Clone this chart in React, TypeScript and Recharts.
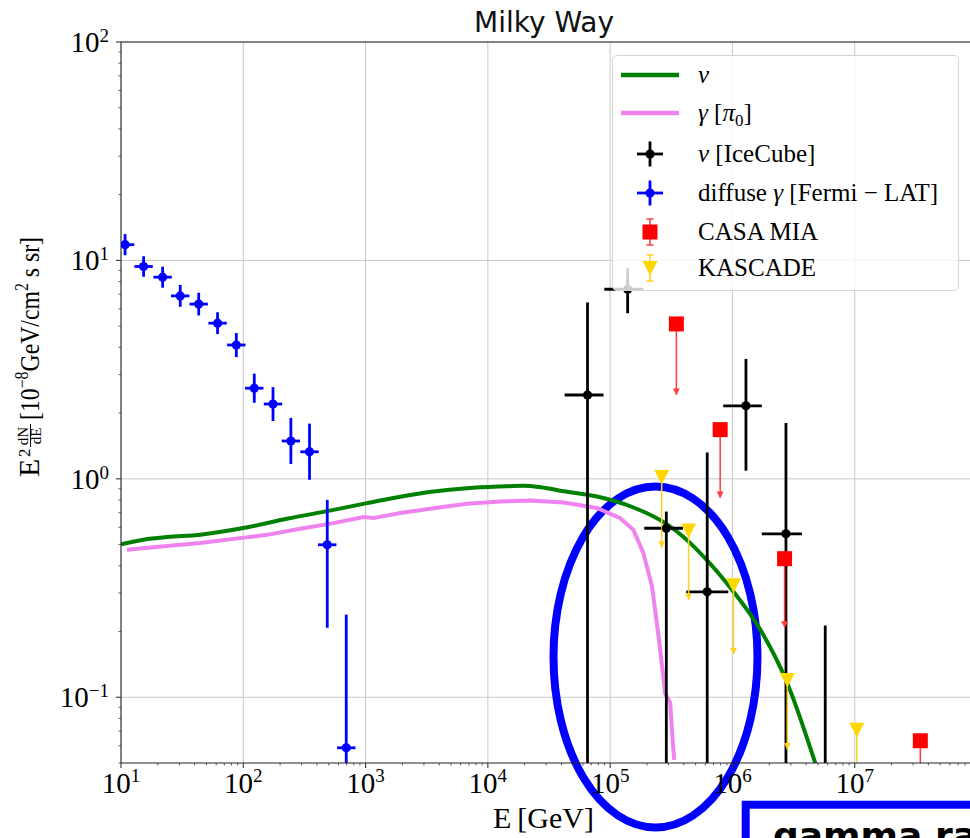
import React from 'react';
import {
  ComposedChart, Line, Scatter, XAxis, YAxis, CartesianGrid, ErrorBar,
  Legend, ReferenceLine, Customized,
} from 'recharts';

const serif = '"Liberation Serif", "DejaVu Serif", serif';

const X_MIN = 10;
const X_MAX = 1e8;
const Y_MIN = 0.05;
const Y_MAX = 100;

// nu model curve
const nuE = [10, 15.3, 23.8, 44.5, 100, 227, 547, 1026, 1693, 3597, 6745, 12600, 19600, 27000, 41600, 78000, 150000, 290000, 396000, 546000, 1.02e6, 1.69e6, 2.81e6, 4.75e6, 5.75e6];
const nuFlux = [0.502, 0.526, 0.541, 0.555, 0.595, 0.656, 0.721, 0.774, 0.817, 0.875, 0.906, 0.922, 0.929, 0.915, 0.878, 0.83, 0.745, 0.62, 0.543, 0.457, 0.304, 0.204, 0.116, 0.0501, 0.0358];

// gamma [pi0] curve
const gamE = [11.2, 23.8, 44.5, 83.4, 156, 292, 547, 963, 1162, 1922, 3597, 6745, 12600, 22200, 41600, 78000, 121000, 155000, 187000, 220000, 249000, 282000, 310000, 320000, 334000];
const gamFlux = [0.473, 0.493, 0.508, 0.531, 0.554, 0.591, 0.627, 0.668, 0.661, 0.697, 0.734, 0.769, 0.787, 0.796, 0.779, 0.735, 0.66, 0.584, 0.457, 0.322, 0.19, 0.104, 0.094, 0.071, 0.0517];

// diffuse gamma, Fermi-LAT
const fermiE = [10.8, 15.3, 21.9, 30.5, 43.2, 61.6, 87.7, 123, 175, 245, 348, 486, 695];
const fermiElo = [9.08, 12.87, 18.42, 25.65, 36.33, 51.81, 73.76, 103.4, 147.2, 206.1, 292.7, 408.7, 584.5];
const fermiEhi = [12.84, 18.19, 26.04, 36.26, 51.36, 73.24, 104.3, 146.2, 208.1, 291.3, 413.8, 577.9, 826.4];
const fermiFlux = [11.8, 9.38, 8.38, 6.88, 6.31, 5.16, 4.1, 2.6, 2.2, 1.49, 1.33, 0.499, 0.0587];
const fermiLo = [10.56, 8.42, 7.5, 6.13, 5.6, 4.6, 3.61, 2.23, 1.84, 1.17, 0.99, 0.208, 0.01];
const fermiHi = [13.2, 10.45, 9.36, 7.72, 7.11, 5.79, 4.65, 3.03, 2.63, 1.9, 1.79, 0.801, 0.239];

// nu, IceCube
const icE = [6.53e4, 1.39e5, 2.88e5, 6.22e5, 1.29e6, 2.74e6, 5.74e6];
const icElo = [4.24e4, 8.96e4, 1.9e5, 4.19e5, 8.41e5, 1.74e6, 3.7e6];
const icEhi = [8.83e4, 1.87e5, 3.94e5, 9.25e5, 1.74e6, 3.7e6, 8.9e6];
const icFlux = [2.42, 7.38, 0.594, 0.304, 2.16, 0.56, 0.02];
const icLo = [0.01, 5.73, 0.01, 0.01, 1.09, 0.01, 0.005];
const icHi = [6.41, 9.2, 0.708, 1.32, 3.54, 1.8, 0.213];

// CASA MIA upper limits
const casaE = [3.48e5, 7.94e5, 2.67e6, 3.44e7];
const casaFlux = [5.12, 1.68, 0.431, 0.0632];
const casaTip = [2.42, 0.818, 0.208, 0.0316];

// KASCADE upper limits
const kasE = [2.64e5, 4.38e5, 1.02e6, 2.81e6, 1.04e7];
const kasFlux = [1.02, 0.58, 0.326, 0.12, 0.071];
const kasTip = [0.483, 0.279, 0.157, 0.0576, 0.035];

const xMajor = [1e1, 1e2, 1e3, 1e4, 1e5, 1e6, 1e7, 1e8];
const yMajor = [0.1, 1, 10, 100];
const minorSteps = [2, 3, 4, 5, 6, 7, 8, 9];

const withMinor = (majors: number[], lo: number, hi: number) => {
  const out: number[] = [];
  [majors[0] / 10, ...majors].forEach((m) => {
    out.push(m);
    minorSteps.forEach((s) => out.push(m * s));
  });
  return out.filter((v) => v >= lo * 0.999 && v <= hi * 1.001);
};
const xTicks = withMinor(xMajor, X_MIN, X_MAX);
const yTicks = withMinor(yMajor, Y_MIN, Y_MAX);

// error bars are not clipped by the plot area, so keep their ends on the axes
const cx = (v: number) => Math.max(v, X_MIN);
const cy = (v: number) => Math.max(v, Y_MIN);

const line = (E: number[], f: number[]) => E.map((e, i) => ({ E: e, v: f[i] }));
const nuData = line(nuE, nuFlux);
const gamData = line(gamE, gamFlux);
const fermiData = fermiE.map((e, i) => ({
  E: e, v: fermiFlux[i],
  ex: [e - cx(fermiElo[i]), fermiEhi[i] - e],
  ey: [fermiFlux[i] - cy(fermiLo[i]), fermiHi[i] - fermiFlux[i]],
}));
const icData = icE.map((e, i) => ({
  E: e, v: icFlux[i],
  ex: [e - icElo[i], icEhi[i] - e],
  ey: [icFlux[i] - cy(icLo[i]), icHi[i] - icFlux[i]],
}));
const limits = (E: number[], f: number[], tip: number[]) =>
  E.map((e, i) => ({ E: e, v: f[i], ey: [f[i] - cy(tip[i]), 0] }));
const casaData = limits(casaE, casaFlux, casaTip);
const kasData = limits(kasE, kasFlux, kasTip);
const tips = (E: number[], tip: number[]) => line(E, tip).filter((d) => d.v >= Y_MIN);
const casaTips = tips(casaE, casaTip);
const kasTips = tips(kasE, kasTip);

const isMajor = (v: number) => {
  const e = Math.log10(v);
  return Math.abs(e - Math.round(e)) < 1e-6;
};
const expLabel = (v: number) => {
  const e = Math.round(Math.log10(v));
  return e < 0 ? `\u2212${-e}` : `${e}`;
};

const XTick = (props: any) => {
  const { x, y, payload } = props;
  const major = isMajor(payload.value);
  return (
    <g>
      <line x1={x} x2={x} y1={y} y2={y + (major ? 5 : 2.5)} stroke="#333" strokeWidth={major ? 1.1 : 0.8} />
      {major && payload.value < X_MAX && (
        <text x={x} y={y + 30} textAnchor="middle" fontFamily={serif} fontSize={29} fill="#000">
          10<tspan dy={-11} fontSize={19}>{expLabel(payload.value)}</tspan>
        </text>
      )}
    </g>
  );
};

const YTick = (props: any) => {
  const { x, y, payload } = props;
  const major = isMajor(payload.value);
  return (
    <g>
      <line x1={x} x2={x - (major ? 5 : 2.5)} y1={y} y2={y} stroke="#333" strokeWidth={major ? 1.1 : 0.8} />
      {major && (
        <text x={x - 12} y={y + 10} textAnchor="end" fontFamily={serif} fontSize={29} fill="#000">
          10<tspan dy={-10} fontSize={19}>{expLabel(payload.value)}</tspan>
        </text>
      )}
    </g>
  );
};

const dot = (color: string) => (p: any) => <circle cx={p.cx} cy={p.cy} r={4.6} fill={color} />;
const square = (p: any) => <rect x={p.cx - 7.5} y={p.cy - 7.5} width={15} height={15} fill="#ff0000" />;
const triDown = (p: any) => (
  <path d={`M${p.cx - 7.5},${p.cy - 7} L${p.cx + 7.5},${p.cy - 7} L${p.cx},${p.cy + 7.5} Z`} fill="#ffd700" />
);
const arrowHead = (color: string) => (p: any) => (
  <path d={`M${p.cx - 3.5},${p.cy - 6.5} L${p.cx + 3.5},${p.cy - 6.5} L${p.cx},${p.cy} Z`} fill={color} />
);

const Overlay = () => (
  <g>
    <text x={544} y={32} textAnchor="middle" fontFamily="DejaVu Sans" fontSize={28} fill="#111">Milky Way</text>
    <text x={543.5} y={828} textAnchor="middle" fontFamily={serif} fontSize={30} fill="#000">E{'\u2009'}[GeV]</text>
    <g transform="translate(39,477) rotate(-90)" fontFamily={serif} fill="#000">
      <text x={0} y={0} fontSize={30}>E</text>
      <text x={20} y={-9} fontSize={17}>2</text>
      <text x={41} y={-11} fontSize={15} textAnchor="middle">dN</text>
      <line x1={30} x2={53} y1={-8.5} y2={-8.5} stroke="#000" strokeWidth={1} />
      <text x={41} y={2} fontSize={15} textAnchor="middle">dE</text>
      <text x={57} y={0} fontSize={27} textLength={183} lengthAdjust="spacingAndGlyphs">
        [10<tspan dy={-11} fontSize={18}>{'\u22128'}</tspan>
        <tspan dy={11}>GeV/cm</tspan>
        <tspan dy={-11} fontSize={18}>2</tspan>
        <tspan dy={11}>{' s sr]'}</tspan>
      </text>
    </g>
    <ellipse cx={655.5} cy={657} rx={102} ry={170.5} fill="none" stroke="#0000ff" strokeWidth={8} />
    <rect x={745.7} y={804.7} width={400} height={120} fill="#fff" stroke="#0000ff" strokeWidth={8} />
    <text x={773} y={848} fontFamily="DejaVu Sans" fontWeight="bold" fontSize={36} fill="#000">gamma rays</text>
  </g>
);

const rows = [
  { cy: 19, icon: 'nu', label: <i>ν</i> },
  { cy: 57, icon: 'gam', label: <span><i>γ</i> [<i>π</i><span style={{ fontSize: 17, position: 'relative', top: 5 }}>0</span>]</span> },
  { cy: 98, icon: 'ic', label: <span><i>ν</i> [IceCube]</span> },
  { cy: 137, icon: 'fermi', label: <span>diffuse <i>γ</i> [Fermi − LAT]</span> },
  { cy: 176, icon: 'casa', label: <span>CASA MIA</span> },
  { cy: 212, icon: 'kas', label: <span>KASCADE</span> },
];

const Icon = ({ kind }: { kind: string }) => {
  const c = 30, m = 20;
  if (kind === 'nu' || kind === 'gam') {
    return <line x1={1} x2={59} y1={m} y2={m} stroke={kind === 'nu' ? '#008000' : '#ee82ee'} strokeWidth={4.5} />;
  }
  if (kind === 'ic' || kind === 'fermi') {
    const col = kind === 'ic' ? '#000' : '#0000ff';
    return (
      <g stroke={col} strokeWidth={2.8}>
        <line x1={c - 13} x2={c + 13} y1={m} y2={m} />
        <line x1={c} x2={c} y1={m - 12.5} y2={m + 12.5} />
        <circle cx={c} cy={m} r={4.6} fill={col} stroke="none" />
      </g>
    );
  }
  const col = kind === 'casa' ? '#ff3b3b' : '#ffd21f';
  return (
    <g>
      <g stroke={col} strokeWidth={1.5}>
        <line x1={c} x2={c} y1={m - 13} y2={m + 13} />
        <line x1={c - 3.5} x2={c + 3.5} y1={m - 13} y2={m - 13} />
        <line x1={c - 3.5} x2={c + 3.5} y1={m + 13} y2={m + 13} />
      </g>
      {kind === 'casa'
        ? <rect x={c - 7.5} y={m - 7.5} width={15} height={15} fill="#ff0000" />
        : <path d={`M${c - 7.5},${m - 7} L${c + 7.5},${m - 7} L${c},${m + 7.5} Z`} fill="#ffd700" />}
    </g>
  );
};

const LegendBox = () => (
  <div style={{
    position: 'relative', width: 347, height: 236, boxSizing: 'border-box',
    border: '1px solid #d4d4d4', borderRadius: 5, background: 'rgba(255,255,255,0.8)',
    fontFamily: serif, fontSize: 25, color: '#000',
  }}>
    {rows.map((r) => (
      <div key={r.icon} style={{ position: 'absolute', left: 0, top: r.cy - 20, height: 40, width: '100%' }}>
        <svg width={60} height={40} style={{ position: 'absolute', left: 7, top: 0 }}>
          <Icon kind={r.icon} />
        </svg>
        <div style={{ position: 'absolute', left: 85, top: 0, lineHeight: '40px', whiteSpace: 'nowrap' }}>{r.label}</div>
      </div>
    ))}
  </div>
);

export default function App() {
  return (
    <div style={{ position: 'absolute', left: 0, top: 0, width: 970, height: 838, overflow: 'hidden', background: '#fff' }}>
      <ComposedChart width={980} height={838} margin={{ top: 42, right: 3, bottom: 0, left: 0 }}>
        <CartesianGrid
          stroke="#c8c8c8"
          strokeWidth={1}
          verticalValues={xMajor}
          horizontalValues={yMajor}
        />
        <XAxis
          dataKey="E" type="number" scale="log" domain={[X_MIN, X_MAX]} allowDataOverflow
          ticks={xTicks} interval={0} height={75} tickSize={0} tickMargin={0}
          tickLine={false} axisLine={{ stroke: '#222', strokeWidth: 1 }} tick={<XTick />}
        />
        <YAxis
          dataKey="v" type="number" scale="log" domain={[Y_MIN, Y_MAX]} allowDataOverflow
          ticks={yTicks} interval={0} width={121} tickSize={0} tickMargin={0}
          tickLine={false} axisLine={{ stroke: '#222', strokeWidth: 1 }} tick={<YTick />}
        />
        <ReferenceLine y={Y_MAX} stroke="#222" strokeWidth={1} />
        <Line data={nuData} dataKey="v" type="monotone" stroke="#008000" strokeWidth={4} dot={false} isAnimationActive={false} />
        <Line data={gamData} dataKey="v" type="linear" stroke="#ee82ee" strokeWidth={4} dot={false} isAnimationActive={false} />
        <Scatter data={icData} shape={dot('#000')} isAnimationActive={false}>
          <ErrorBar dataKey="ex" direction="x" width={0} stroke="#000" strokeWidth={2.8} isAnimationActive={false} />
          <ErrorBar dataKey="ey" direction="y" width={0} stroke="#000" strokeWidth={2.8} isAnimationActive={false} />
        </Scatter>
        <Scatter data={fermiData} shape={dot('#0000ff')} isAnimationActive={false}>
          <ErrorBar dataKey="ex" direction="x" width={0} stroke="#0000ff" strokeWidth={2.8} isAnimationActive={false} />
          <ErrorBar dataKey="ey" direction="y" width={0} stroke="#0000ff" strokeWidth={2.8} isAnimationActive={false} />
        </Scatter>
        <Scatter data={casaData} shape={square} isAnimationActive={false}>
          <ErrorBar dataKey="ey" direction="y" width={0} stroke="#ff3b3b" strokeWidth={1.5} isAnimationActive={false} />
        </Scatter>
        <Scatter data={casaTips} shape={arrowHead('#ff3b3b')} isAnimationActive={false} />
        <Scatter data={kasData} shape={triDown} isAnimationActive={false}>
          <ErrorBar dataKey="ey" direction="y" width={0} stroke="#ffd21f" strokeWidth={1.5} isAnimationActive={false} />
        </Scatter>
        <Scatter data={kasTips} shape={arrowHead('#ffd21f')} isAnimationActive={false} />
        <Legend
          layout="horizontal" verticalAlign="middle" align="center"
          content={<LegendBox />}
          wrapperStyle={{ left: 612, top: 55, width: 347, height: 236 }}
        />
        <Customized component={Overlay} />
      </ComposedChart>
    </div>
  );
}
